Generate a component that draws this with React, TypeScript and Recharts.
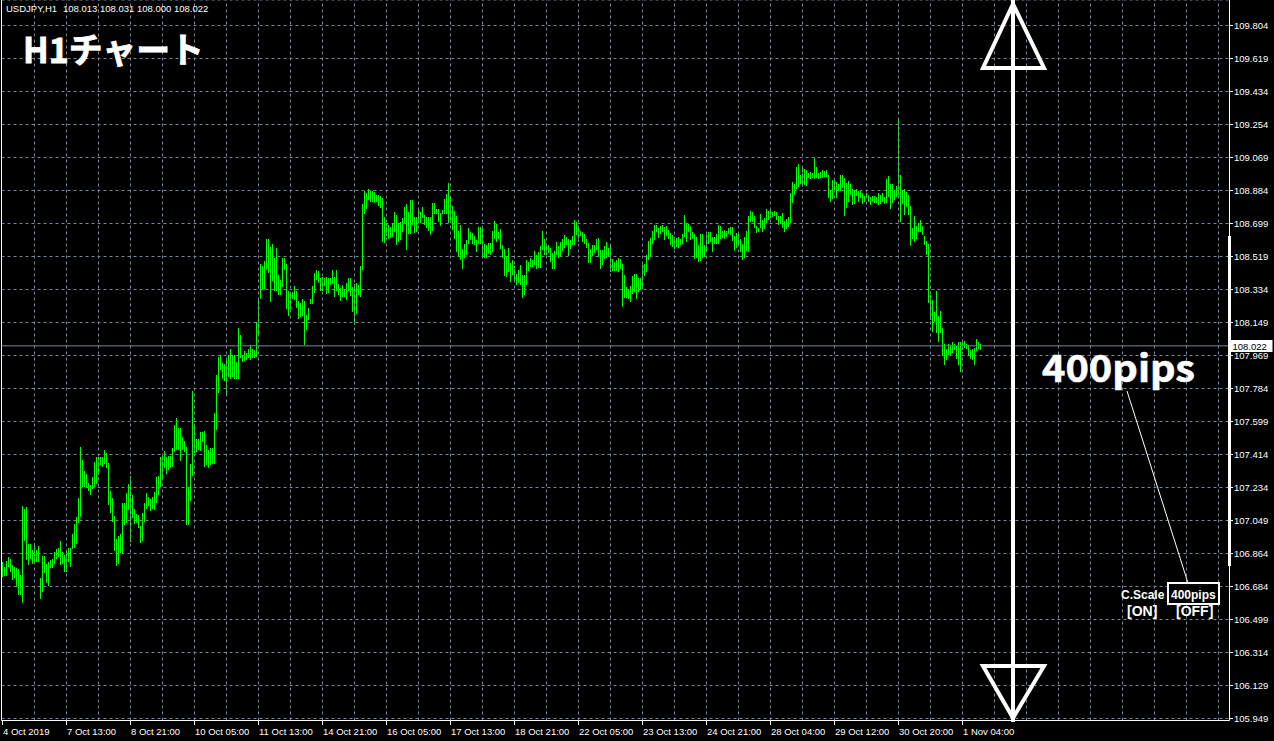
import React from "react";
import { ComposedChart, Bar, XAxis, YAxis, CartesianGrid, ReferenceLine } from "recharts";

// ---- data (USDJPY H1, high / low per bar) ----
const highs: number[] = [
  106.821,106.793,106.826,106.845,106.834,106.802,106.793,106.784,106.778,106.747,
  107.131,107.112,107.123,106.922,106.922,106.889,106.926,106.889,106.911,106.733,
  106.852,106.852,106.811,106.821,106.830,106.839,106.876,106.894,106.900,106.935,
  106.876,106.858,106.885,106.898,106.900,106.974,107.030,107.071,107.173,107.457,
  107.386,107.327,107.308,107.260,107.247,107.293,107.377,107.401,107.405,107.401,
  107.401,107.442,107.427,107.371,107.216,107.173,107.075,106.945,106.963,106.974,
  107.145,107.145,107.201,107.256,107.297,107.192,107.112,107.086,107.080,107.019,
  107.090,107.145,107.201,107.179,107.168,107.182,107.210,107.290,107.297,107.405,
  107.419,107.438,107.401,107.408,107.408,107.451,107.581,107.623,107.563,107.563,
  107.516,107.494,107.461,107.238,107.364,107.772,107.576,107.502,107.505,107.542,
  107.544,107.550,107.470,107.442,107.451,107.451,107.649,107.859,107.961,107.970,
  107.927,107.920,107.942,107.970,108.007,107.970,107.970,107.933,108.124,108.082,
  107.970,107.994,107.983,108.007,108.026,108.007,107.998,108.155,108.285,108.480,
  108.465,108.493,108.615,108.619,108.572,108.591,108.508,108.569,108.415,108.391,
  108.511,108.513,108.476,108.328,108.313,108.322,108.356,108.328,108.272,108.263,
  108.285,108.272,108.192,108.235,108.285,108.356,108.428,108.446,108.439,108.400,
  108.406,108.402,108.406,108.397,108.402,108.443,108.406,108.446,108.365,108.341,
  108.360,108.332,108.374,108.402,108.402,108.347,108.365,108.373,108.360,108.465,
  108.810,108.884,108.873,108.892,108.884,108.884,108.879,108.860,108.860,108.854,
  108.847,108.740,108.708,108.697,108.684,108.706,108.764,108.749,108.706,108.712,
  108.731,108.795,108.810,108.764,108.832,108.832,108.740,108.740,108.781,108.768,
  108.795,108.749,108.740,108.736,108.740,108.819,108.814,108.781,108.781,108.762,
  108.777,108.841,108.866,108.930,108.847,108.799,108.773,108.744,108.662,108.694,
  108.559,108.591,108.610,108.675,108.656,108.647,108.632,108.610,108.684,108.681,
  108.675,108.591,108.582,108.595,108.595,108.660,108.718,108.702,108.656,108.671,
  108.582,108.560,108.521,108.564,108.485,108.499,108.467,108.424,108.443,108.474,
  108.415,108.415,108.499,108.489,108.508,108.499,108.549,108.530,108.545,108.577,
  108.660,108.616,108.588,108.582,108.567,108.540,108.549,108.601,108.577,108.601,
  108.616,108.638,108.629,108.619,108.610,108.634,108.721,108.712,108.678,108.660,
  108.656,108.642,108.614,108.592,108.560,108.582,108.582,108.616,108.623,108.554,
  108.554,108.577,108.601,108.567,108.586,108.504,108.489,108.499,108.508,108.504,
  108.480,108.415,108.350,108.337,108.356,108.411,108.424,108.419,108.400,108.400,
  108.474,108.476,108.530,108.605,108.623,108.660,108.697,108.693,108.675,108.688,
  108.693,108.684,108.689,108.666,108.647,108.638,108.629,108.623,108.629,108.619,
  108.642,108.749,108.708,108.702,108.688,108.656,108.642,108.629,108.582,108.642,
  108.642,108.582,108.638,108.653,108.653,108.629,108.629,108.642,108.697,108.689,
  108.660,108.666,108.660,108.678,108.684,108.684,108.634,108.647,108.647,108.619,
  108.591,108.629,108.660,108.744,108.772,108.764,108.744,108.690,108.679,108.753,
  108.722,108.735,108.783,108.772,108.787,108.764,108.772,108.764,108.744,108.744,
  108.759,108.716,108.727,108.736,108.870,108.931,108.925,109.017,109.031,108.975,
  109.009,109.005,108.998,108.984,108.990,108.986,109.069,109.018,108.981,108.990,
  109.000,108.994,108.998,108.975,108.888,108.944,108.944,108.931,108.925,108.975,
  108.975,108.957,108.929,108.938,108.925,108.892,108.888,108.894,108.883,108.883,
  108.875,108.855,108.870,108.860,108.851,108.857,108.857,108.851,108.870,108.860,
  108.870,108.851,108.949,108.966,108.921,108.921,108.888,108.910,109.283,108.971,
  108.888,108.894,108.879,108.860,108.801,108.679,108.744,108.690,108.703,108.722,
  108.690,108.634,108.604,108.591,108.304,108.276,108.212,108.327,108.190,108.216,
  108.119,108.035,108.004,108.030,108.026,108.041,108.030,108.022,108.045,108.041,
  108.045,108.048,108.030,108.026,107.998,108.004,108.011,108.059,108.045,108.031
];

const lows: number[] = [
  106.737,106.741,106.741,106.793,106.765,106.719,106.728,106.682,106.636,106.636,
  106.589,106.937,106.830,106.802,106.839,106.811,106.821,106.821,106.821,106.615,
  106.654,106.756,106.700,106.685,106.784,106.784,106.811,106.839,106.848,106.802,
  106.811,106.765,106.765,106.821,106.793,106.894,106.900,106.922,107.034,107.071,
  107.238,107.238,107.229,107.216,107.192,107.223,107.238,107.256,107.303,107.358,
  107.349,107.367,107.340,107.136,107.093,107.043,106.881,106.797,106.811,106.867,
  106.870,107.024,107.034,107.108,106.931,107.062,107.030,107.034,107.011,106.926,
  106.937,107.043,107.117,107.131,107.105,107.117,107.108,107.145,107.192,107.238,
  107.284,107.340,107.308,107.330,107.340,107.349,107.433,107.442,107.442,107.382,
  107.442,107.433,107.024,107.024,107.160,107.297,107.427,107.433,107.442,107.438,
  107.489,107.349,107.358,107.345,107.358,107.367,107.367,107.553,107.761,107.886,
  107.838,107.827,107.742,107.846,107.840,107.849,107.840,107.840,107.840,107.957,
  107.933,107.938,107.942,107.957,107.942,107.952,107.952,107.961,108.090,108.285,
  108.332,108.336,108.446,108.425,108.267,108.384,108.328,108.328,108.304,108.304,
  108.347,108.443,108.229,108.188,108.226,108.285,108.276,108.235,108.174,108.183,
  108.188,108.026,108.109,108.164,108.253,108.253,108.317,108.391,108.369,108.328,
  108.328,108.354,108.310,108.317,108.360,108.365,108.295,108.328,108.304,108.272,
  108.295,108.291,108.276,108.328,108.300,108.211,108.137,108.198,108.304,108.295,
  108.446,108.758,108.781,108.832,108.823,108.823,108.814,108.823,108.801,108.790,
  108.600,108.595,108.634,108.619,108.624,108.628,108.656,108.582,108.600,108.613,
  108.656,108.703,108.554,108.643,108.643,108.694,108.651,108.656,108.703,108.707,
  108.731,108.694,108.675,108.662,108.638,108.662,108.758,108.755,108.712,108.690,
  108.758,108.758,108.758,108.707,108.703,108.669,108.619,108.545,108.517,108.502,
  108.452,108.508,108.526,108.587,108.610,108.591,108.582,108.545,108.587,108.587,
  108.517,108.508,108.513,108.532,108.526,108.545,108.619,108.601,108.616,108.560,
  108.512,108.411,108.406,108.430,108.378,108.415,108.387,108.359,108.374,108.359,
  108.286,108.307,108.363,108.437,108.461,108.461,108.471,108.448,108.456,108.456,
  108.554,108.530,108.530,108.541,108.489,108.448,108.452,108.527,108.508,108.523,
  108.549,108.567,108.582,108.521,108.560,108.582,108.582,108.638,108.601,108.634,
  108.601,108.586,108.567,108.483,108.483,108.523,108.541,108.554,108.519,108.448,
  108.471,108.504,108.508,108.523,108.430,108.437,108.437,108.437,108.433,108.448,
  108.239,108.286,108.286,108.282,108.267,108.313,108.322,108.282,108.322,108.331,
  108.337,108.411,108.433,108.499,108.523,108.591,108.610,108.653,108.623,108.642,
  108.656,108.610,108.634,108.614,108.582,108.573,108.560,108.573,108.564,108.582,
  108.586,108.629,108.601,108.653,108.610,108.616,108.504,108.508,108.489,108.493,
  108.512,108.517,108.554,108.591,108.597,108.545,108.591,108.586,108.586,108.619,
  108.623,108.619,108.629,108.642,108.638,108.605,108.549,108.567,108.591,108.545,
  108.502,108.508,108.549,108.545,108.712,108.712,108.675,108.647,108.653,108.675,
  108.657,108.672,108.703,108.722,108.731,108.740,108.746,108.722,108.694,108.698,
  108.675,108.653,108.672,108.685,108.703,108.819,108.860,108.894,108.907,108.925,
  108.907,108.916,108.912,108.953,108.949,108.953,108.949,108.953,108.949,108.953,
  108.957,108.962,108.962,108.842,108.823,108.838,108.888,108.845,108.882,108.882,
  108.901,108.746,108.790,108.823,108.860,108.805,108.809,108.857,108.823,108.842,
  108.809,108.823,108.842,108.823,108.805,108.823,108.819,108.819,108.805,108.809,
  108.823,108.809,108.819,108.851,108.786,108.814,108.832,108.851,108.860,108.712,
  108.809,108.749,108.796,108.749,108.578,108.615,108.597,108.615,108.657,108.653,
  108.638,108.582,108.526,108.258,108.166,108.101,108.156,108.091,108.045,108.091,
  107.967,107.918,107.943,107.970,107.970,107.980,107.998,107.948,107.918,107.878,
  107.998,108.011,108.004,107.967,107.948,107.943,107.918,107.993,108.004,108.000
];

const xLabels: string[] = [
  "4 Oct 2019", "7 Oct 13:00", "8 Oct 21:00", "10 Oct 05:00", "11 Oct 13:00",
  "14 Oct 21:00", "16 Oct 05:00", "17 Oct 13:00", "18 Oct 21:00", "22 Oct 05:00",
  "23 Oct 13:00", "24 Oct 21:00", "28 Oct 04:00", "29 Oct 12:00", "30 Oct 20:00",
  "1 Nov 04:00"
];
const barsPerLabel = 32;
const barsPerGrid = 16;

const yTickLabels: string[] = [
  "105.949", "106.129", "106.314", "106.499", "106.684", "106.864", "107.049",
  "107.234", "107.414", "107.599", "107.784", "107.969", "108.149", "108.334",
  "108.519", "108.699", "108.884", "109.069", "109.254", "109.434", "109.619", "109.804"
];

const headerSymbol = "USDJPY,H1";
const headerOHLC = "108.013 108.031 108.000 108.022";
const currentPrice = 108.022;
const currentPriceLabel = "108.022";

// ---- derived ----
const bars = highs.map((h, i) => ({ i, range: [lows[i], h] as [number, number] }));
const xTickIdx = xLabels.map((_, k) => k * barsPerLabel);
const yFirst = Number(yTickLabels[0]);
const yLast = Number(yTickLabels[yTickLabels.length - 1]);
const yStep = (yLast - yFirst) / (yTickLabels.length - 1);
const yTickValues = yTickLabels.map((_, k) => yFirst + k * yStep);
const gridIdx: number[] = [];
for (let g = barsPerGrid; g <= 613; g += barsPerGrid) gridIdx.push(g);

const W = 1274;
const H = 741;
const GRID = "#778899";
const GREEN = "#00ff00";
const AXFONT = "'Liberation Sans', Arial, sans-serif";
const JPFONT = "'Noto Sans CJK JP', 'Noto Sans', sans-serif";

const BarShape = (p: any) => {
  const { x, y, width, height } = p;
  if (x == null || y == null) return null;
  const cx = Math.round(x + (width || 0) / 2 - 0.5);
  const y1 = Math.min(y, y + height);
  const y2 = Math.max(y, y + height);
  const top = Math.round(y1);
  const h = Math.max(1, Math.round(y2) - top);
  return <rect x={cx} y={top} width={1} height={h} fill={GREEN} />;
};

const XTick = (p: any) => {
  const x = Math.floor(p.x) + 0.5;
  const idx = xTickIdx.indexOf(p.payload.value);
  return (
    <g>
      <line x1={x} y1={721} x2={x} y2={725} stroke="#fff" strokeWidth={1} />
      <text x={x + 0.5} y={734.5} fill="#fff" fontSize={9.5} fontFamily={AXFONT} textAnchor="start">
        {idx >= 0 ? xLabels[idx] : ""}
      </text>
    </g>
  );
};

const YTick = (p: any) => {
  const y = Math.floor(p.y) + 0.5;
  const idx = yTickValues.findIndex((v) => Math.abs(v - p.payload.value) < 1e-6);
  return (
    <g>
      <line x1={1230} y1={y} x2={1233} y2={y} stroke="#fff" strokeWidth={1} />
      <text x={1234} y={y + 3.5} fill="#fff" fontSize={9.5} fontFamily={AXFONT} textAnchor="start">
        {idx >= 0 ? yTickLabels[idx] : ""}
      </text>
    </g>
  );
};

const PriceLabel = (p: any) => {
  const vb = p.viewBox || {};
  const y = (vb.y || 0) + (vb.height || 0) / 2;
  const right = (vb.x || 0) + (vb.width || 0);
  return (
    <g>
      <rect x={right + 1} y={Math.round(y) - 6} width={42} height={12} fill="#fff" />
      <text x={right + 3} y={Math.round(y) + 3.5} fill="#000" fontSize={9.5} fontFamily={AXFONT}>
        {currentPriceLabel}
      </text>
    </g>
  );
};

export default function App() {
  return (
    <div style={{ position: "absolute", left: 0, top: 0, width: W, height: H, background: "#000", overflow: "hidden" }}>
      <ComposedChart
        width={W}
        height={H}
        data={bars}
        margin={{ top: 0, right: 0, bottom: 0, left: 1.5 }}
        style={{ position: "absolute", left: 0, top: 0 }}
      >
        <CartesianGrid vertical={false} stroke={GRID} strokeDasharray="3 3" />
        {gridIdx.map((g) => (
          <ReferenceLine key={g} x={g} stroke={GRID} strokeDasharray="3 3" ifOverflow="hidden" />
        ))}
        <XAxis
          dataKey="i"
          type="number"
          domain={[-0.5, 613.5]}
          allowDataOverflow
          ticks={xTickIdx}
          interval={0}
          height={20.5}
          axisLine={{ stroke: "#fff" }}
          tickLine={false}
          tick={<XTick />}
        />
        <YAxis
          orientation="right"
          type="number"
          domain={[105.937875, 109.945851]}
          allowDataOverflow
          ticks={yTickValues}
          interval={0}
          width={44.5}
          axisLine={{ stroke: "#fff" }}
          tickLine={false}
          tick={<YTick />}
        />
        <ReferenceLine x={-0.5} stroke="#fff" />
        <ReferenceLine y={currentPrice} stroke={GRID} label={<PriceLabel />} />
        <Bar dataKey="range" isAnimationActive={false} barSize={1} shape={<BarShape />} />
      </ComposedChart>

      <svg width={W} height={H} style={{ position: "absolute", left: 0, top: 0, pointerEvents: "none" }}>
        <text x={6} y={12} fill="#fff" fontSize={9.5} fontFamily={AXFONT}>{headerSymbol}</text>
        <text x={63} y={12} fill="#fff" fontSize={9.5} fontFamily={AXFONT}>{headerOHLC}</text>
        <text x={23} y={63} fill="#fff" stroke="#fff" strokeWidth={0.8} fontSize={35} fontWeight={700} fontFamily={JPFONT} textLength={181} lengthAdjust="spacingAndGlyphs">H1チャート</text>

        {/* thick part of price scale */}
        <rect x={1228} y={236} width={3} height={330} fill="#fff" />

        {/* 400pips arrow */}
        <g stroke="#fff" strokeWidth={4} fill="none" strokeLinejoin="miter">
          <line x1={1013} y1={0} x2={1013} y2={722} />
          <polygon points="1013,4 983,68 1044,68" />
          <polygon points="1013,718 983,666 1044,666" />
        </g>

        <text x={1042} y={382} fill="#fff" stroke="#fff" strokeWidth={0.6} fontSize={37} fontWeight={700} fontFamily={JPFONT} textLength={153} lengthAdjust="spacingAndGlyphs">400pips</text>
        <line x1={1127} y1={391} x2={1188} y2={583} stroke="#fff" strokeWidth={1} />

        {/* C.Scale box */}
        <text x={1121} y={598.5} fill="#fff" fontSize={12} fontWeight={700} fontFamily={AXFONT}>C.Scale</text>
        <rect x={1168} y={583} width={51} height={21} fill="#000" stroke="#fff" strokeWidth={2} />
        <text x={1171} y={598.5} fill="#fff" fontSize={12} fontWeight={700} fontFamily={AXFONT}>400pips</text>
        <text x={1127} y={615.5} fill="#fff" fontSize={14} fontWeight={700} fontFamily={AXFONT}>[ON]</text>
        <text x={1176} y={615.5} fill="#fff" fontSize={14} fontWeight={700} fontFamily={AXFONT}>[OFF]</text>
      </svg>
    </div>
  );
}
